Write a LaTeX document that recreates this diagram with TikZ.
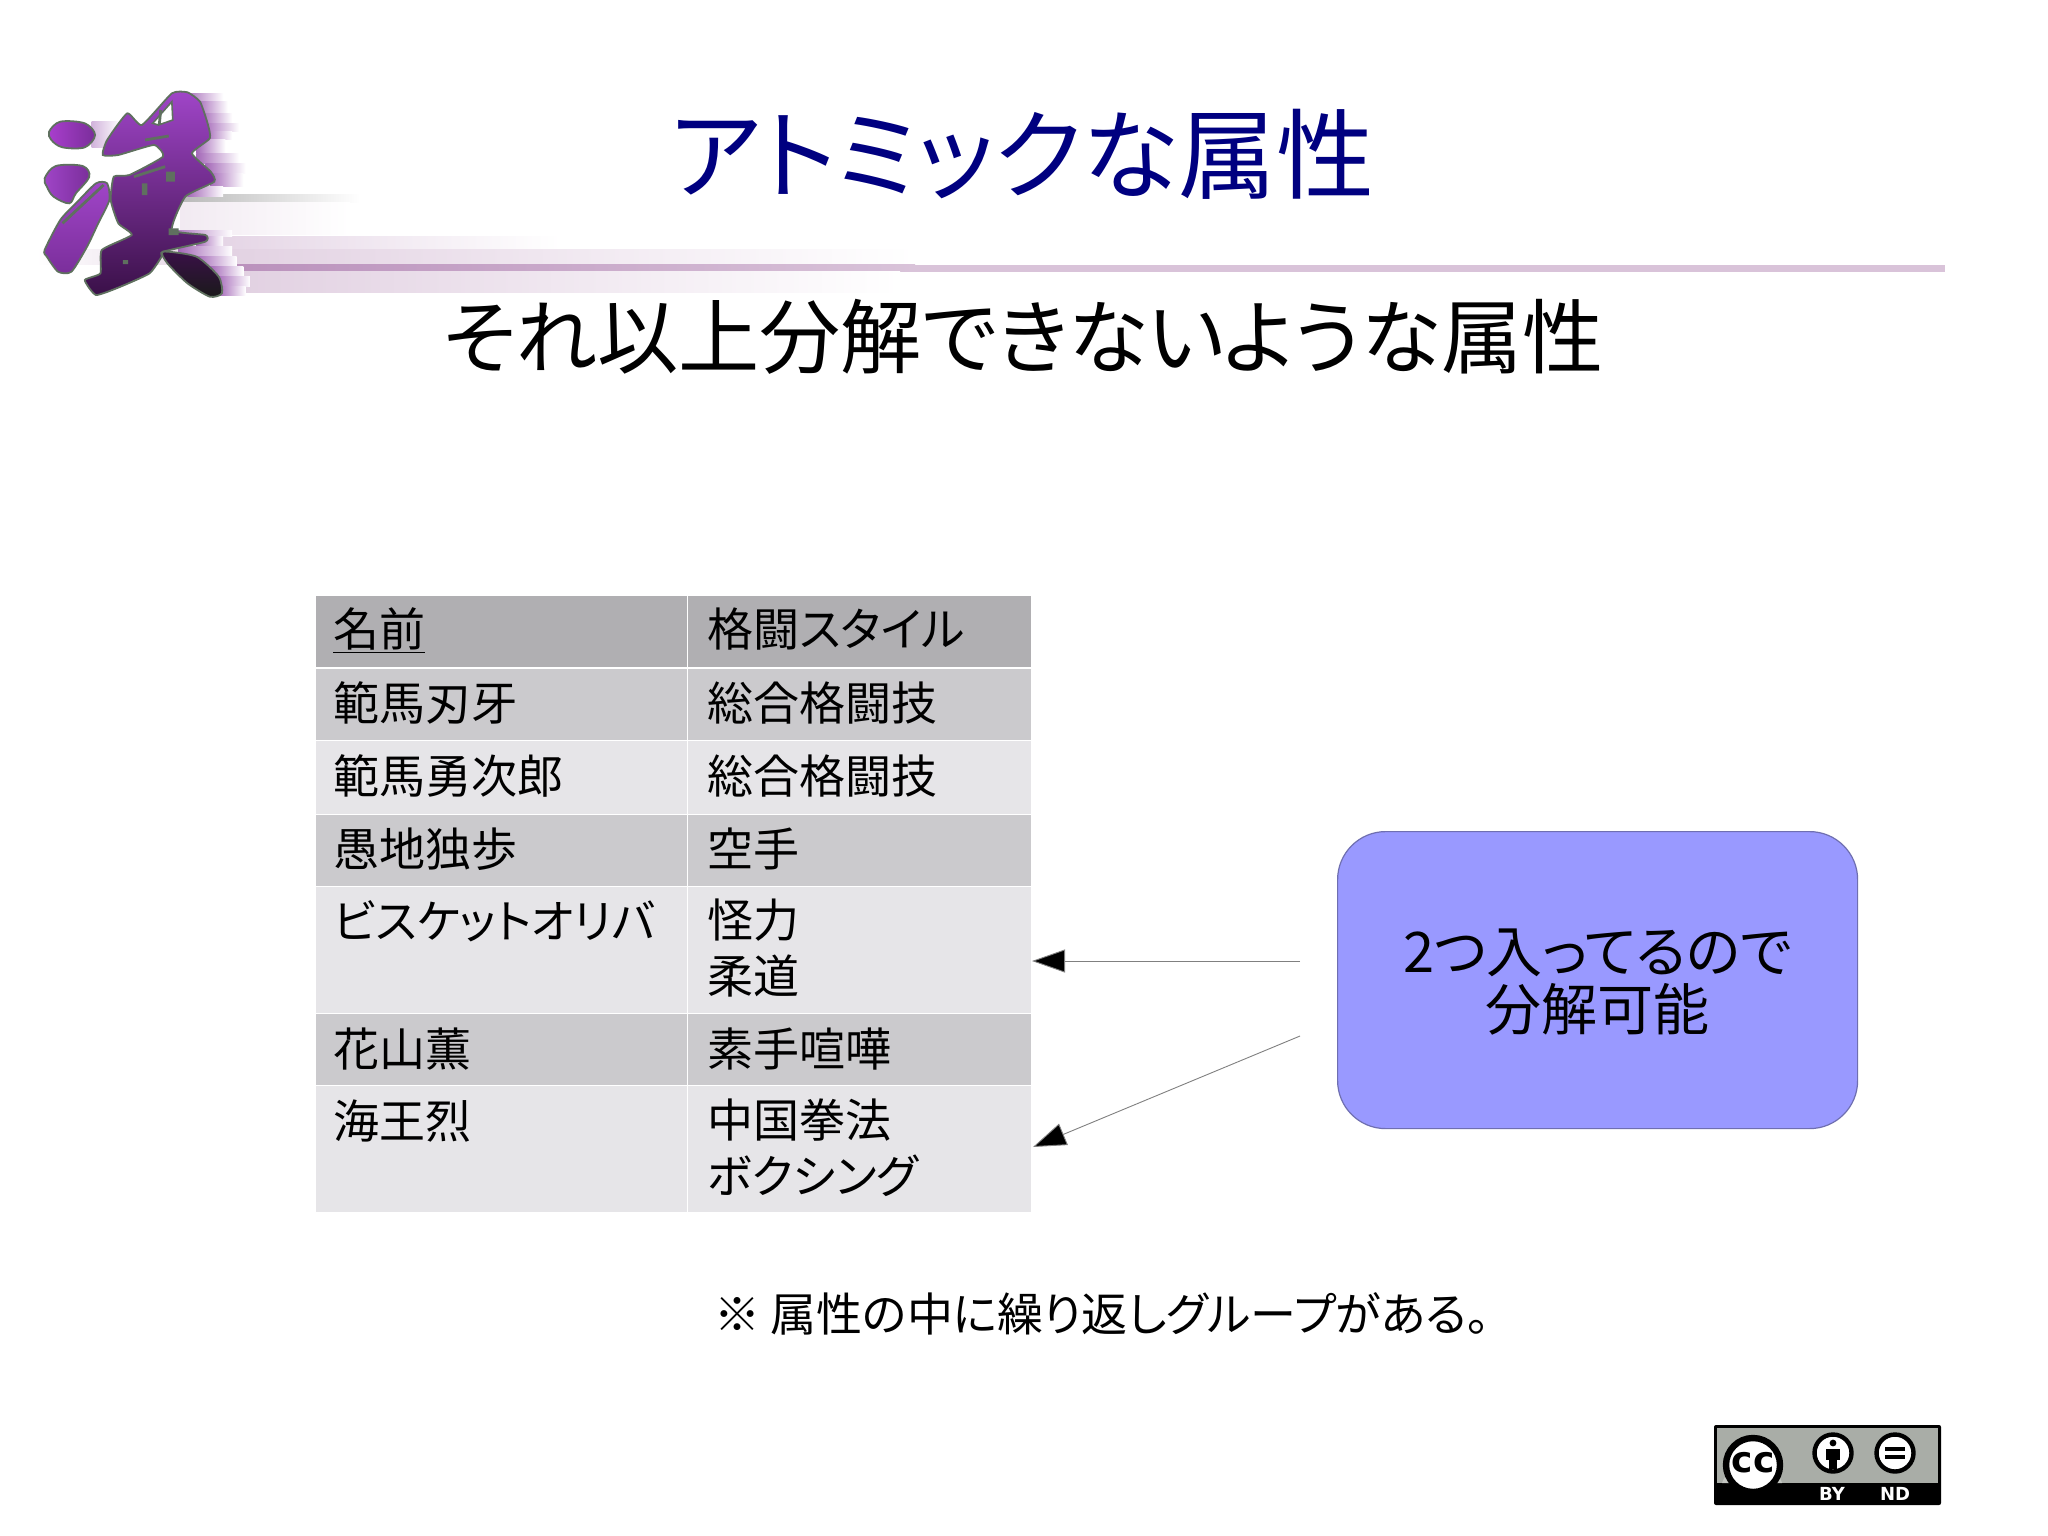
\documentclass[tikz,border=0pt]{standalone}
\usepackage{fontspec}
\setmainfont{Noto Sans CJK JP}[RawFeature=+palt]
\newfontfamily\badgefont{DejaVu Sans}
\usetikzlibrary{arrows.meta}
\definecolor{hdr}{HTML}{B0AFB2}
\definecolor{rowd}{HTML}{CBCACD}
\definecolor{rowl}{HTML}{E6E5E8}
\definecolor{titleblue}{HTML}{000080}
\definecolor{boxfill}{HTML}{9999FF}
\definecolor{boxline}{HTML}{6F6FB0}
\definecolor{barm}{HTML}{D9C3D9}
\definecolor{bars}{HTML}{B98FBB}
\definecolor{blurp}{HTML}{A468B8}
\definecolor{glyphedge}{HTML}{5F705F}
\definecolor{badgegray}{HTML}{A9ADA7}
\definecolor{gtop}{HTML}{A045C8}
\definecolor{gmid}{HTML}{7A2E9A}
\definecolor{gbot}{HTML}{3A1048}
\tikzset{
  cell/.style={rectangle,draw=white,line width=0.4pt,inner sep=0pt,anchor=north west},
  celltext/.style={inner sep=0pt,font=\fontsize{23}{27.8}\selectfont,anchor=base west},
  cellmulti/.style={inner sep=0pt,font=\fontsize{23}{27.8}\selectfont,align=left,anchor=north west},
  link/.style={draw=gray,line width=0.45pt,-{Triangle[length=16.5pt,width=11.5pt,fill=black]}},
  glyphpiece/.style={draw=glyphedge,line width=0.9pt},
}
\begin{document}
\begin{tikzpicture}[x=0.5pt,y=-0.5pt]
\useasboundingbox (0,0) rectangle (2048,1535);
\fill[white] (0,0) rectangle (2048,1535);
% title bar streaks
\shade[left color=bars!40,right color=white] (200,237) rectangle (560,250);
\shade[left color=barm!80,right color=white] (185,250) rectangle (915,265);
\shade[left color=white,right color=barm!60] (36,250) rectangle (185,265);
\shade[left color=bars,right color=barm] (205,265) rectangle (915,272);
\fill[barm] (915,265) rectangle (1945,272);
\shade[left color=barm!80,right color=white] (215,272) rectangle (900,293);
\shade[left color=gray!55,right color=white] (180,195) rectangle (360,203);
\shade[left color=barm!35,right color=white] (180,203) rectangle (350,235);
% logo
\begin{scope}[x=0.2232pt,y=-0.16667pt,yshift=-30pt]
\foreach \ya/\yb/\xa/\xb in {100/125/415/500,125/160/440/510,160/190/450/520,190/215/455/535,215/240/460/520,240/280/440/505,280/310/440/535,310/340/460/550,340/380/470/545,380/410/420/500,510/530/380/520,530/560/440/500,560/590/400/520,590/620/440/530,620/650/470/545,650/680/485/560,680/705/490/550}{
  \shade[left color=blurp,right color=white] (\xa,\ya) rectangle (\xb,\yb);
}
\shade[left color=blurp!50,right color=white] (205,185) rectangle (270,262);
\shadedraw[glyphpiece,left color=gtop!90!magenta,right color=gmid]
  plot[smooth cycle,tension=0.55] coordinates {(110,215)(135,185)(190,190)(213,225)(190,262)(140,262)(115,240)};
\shadedraw[glyphpiece,left color=gtop,right color=gmid]
  plot[smooth cycle,tension=0.55] coordinates {(100,355)(125,318)(185,318)(200,350)(170,400)(155,430)(120,410)(105,380)};
\shadedraw[glyphpiece,top color=gtop,bottom color=gmid]
  plot[smooth cycle,tension=0.4] coordinates {(100,570)(135,480)(170,430)(215,370)(240,370)(245,420)(220,490)(195,560)(160,635)(130,635)(105,590)};
\shadedraw[glyphpiece,top color=gtop,middle color=gmid,bottom color=gbot]
  plot[smooth cycle,tension=0.3] coordinates {(230,285)(240,240)(285,160)(318,195)(385,100)(420,97)(448,125)(465,190)(470,235)(430,280)(472,335)(480,365)(415,410)(385,510)(460,525)(460,545)(365,575)(362,590)(335,640)(270,680)(215,705)(190,660)(225,640)(228,570)(295,525)(265,490)(248,420)(255,350)(290,345)(365,290)(345,255)(265,285)};
\shadedraw[glyphpiece,top color=gbot,bottom color=black!90]
  plot[smooth cycle,tension=0.4] coordinates {(365,575)(440,590)(490,650)(497,700)(470,710)(420,670)(375,610)};
\filldraw[draw=glyphedge,fill=white,line width=0.8pt] (342,190)--(385,125)--(387,180)--(355,195)--cycle;
\draw[glyphedge,line width=1.4pt] (360,150)--(357,192) (325,240)--(378,228) (300,350)--(370,320) (232,375)--(140,490);
\fill[glyphedge] (318,370) rectangle (330,405) (372,335) rectangle (392,365) (378,505) rectangle (400,525) (275,600) rectangle (287,612);
\end{scope}
% title and lead
\node[inner sep=0pt,font=\fontsize{49}{55}\selectfont,text=titleblue] (title) at (1022,154) {アトミックな属性};
\node[inner sep=0pt,font=\fontsize{40.6}{46}\selectfont] (lead) at (1023,337) {それ以上分解できないような属性};
% table
\node[cell,fill=hdr,minimum width=186pt,minimum height=36.2pt] (a0) at (315,595) {};
\node[cell,fill=hdr,minimum width=172pt,minimum height=36.2pt] (b0) at (687,595) {};
\node[cell,fill=rowd,minimum width=186pt,minimum height=36.5pt] (a1) at (315,667.5) {};
\node[cell,fill=rowd,minimum width=172pt,minimum height=36.5pt] (b1) at (687,667.5) {};
\node[cell,fill=rowl,minimum width=186pt,minimum height=37pt] (a2) at (315,740) {};
\node[cell,fill=rowl,minimum width=172pt,minimum height=37pt] (b2) at (687,740) {};
\node[cell,fill=rowd,minimum width=186pt,minimum height=36pt] (a3) at (315,814) {};
\node[cell,fill=rowd,minimum width=172pt,minimum height=36pt] (b3) at (687,814) {};
\node[cell,fill=rowl,minimum width=186pt,minimum height=63.5pt] (a4) at (315,886) {};
\node[cell,fill=rowl,minimum width=172pt,minimum height=63.5pt] (b4) at (687,886) {};
\node[cell,fill=rowd,minimum width=186pt,minimum height=36pt] (a5) at (315,1013) {};
\node[cell,fill=rowd,minimum width=172pt,minimum height=36pt] (b5) at (687,1013) {};
\node[cell,fill=rowl,minimum width=186pt,minimum height=63.5pt] (a6) at (315,1085) {};
\node[cell,fill=rowl,minimum width=172pt,minimum height=63.5pt] (b6) at (687,1085) {};
\node[celltext] (ta0) at (333,646) {\underline{名前}};
\node[celltext] (tb0) at (707,646) {格闘スタイル};
\node[celltext] (ta1) at (333,720) {範馬刃牙};
\node[celltext] (tb1) at (707,720) {総合格闘技};
\node[celltext] (ta2) at (333,793) {範馬勇次郎};
\node[celltext] (tb2) at (707,793) {総合格闘技};
\node[celltext] (ta3) at (333,866) {愚地独歩};
\node[celltext] (tb3) at (707,866) {空手};
\node[celltext] (ta4) at (333,938) {ビスケットオリバ};
\node[cellmulti] (tb4) at (707,898.5) {怪力\\柔道};
\node[celltext] (ta5) at (333,1066) {花山薫};
\node[celltext] (tb5) at (707,1066) {素手喧嘩};
\node[celltext] (ta6) at (333,1138) {海王烈};
\node[cellmulti] (tb6) at (707,1098.5) {中国拳法\\ボクシング};
% callout
\node[rectangle,rounded corners=24pt,draw=boxline,line width=0.6pt,fill=boxfill,minimum width=260pt,minimum height=148.5pt,inner sep=0pt,anchor=north west] (box) at (1337,831) {};
\node[inner sep=0pt,font=\fontsize{28}{29}\selectfont,align=center] (boxtext) at ([yshift=-1pt]box.center) {2つ入ってるので\\分解可能};
\coordinate (from1) at (1300,961);
\coordinate (to1) at (1032,961);
\coordinate (from2) at (1300,1036);
\coordinate (to2) at (1033,1147);
\draw[link] (from1) -- (to1);
\draw[link] (from2) -- (to2);
% note
\node[inner sep=0pt,anchor=west,font=\fontsize{23}{26}\selectfont] (note) at (714,1314) {※ 属性の中に繰り返しグループがある。};
% badge
\fill[black,rounded corners=1pt] (1714,1425) rectangle (1941,1505);
\fill[badgegray] (1717,1428) rectangle (1938,1483);
\fill[badgegray!70!white] (1722,1483) arc[start angle=200,end angle=340,x radius=32,y radius=32] -- cycle;
\filldraw[draw=black,fill=white,line width=3.2pt] (1753,1465) circle[radius=27];
\node[inner sep=0pt,font=\badgefont\fontsize{18}{18}\bfseries\selectfont] (cc) at (1753,1463) {cc};
\filldraw[draw=black,fill=white,line width=2.2pt] (1833,1453) circle[radius=18.5];
\fill[black] (1833,1443) circle[radius=3.4];
\fill[black] (1826,1449) rectangle (1840,1460);
\fill[black] (1829,1460) rectangle (1837,1469);
\filldraw[draw=black,fill=white,line width=2.2pt] (1895,1453) circle[radius=18.5];
\fill[black] (1885,1446.5) rectangle (1905,1450.5);
\fill[black] (1885,1455) rectangle (1905,1459);
\node[inner sep=0pt,text=white,font=\badgefont\fontsize{9}{9}\bfseries\selectfont] (by) at (1832,1494) {BY};
\node[inner sep=0pt,text=white,font=\badgefont\fontsize{9}{9}\bfseries\selectfont] (nd) at (1895,1494) {ND};
\end{tikzpicture}
\end{document}
